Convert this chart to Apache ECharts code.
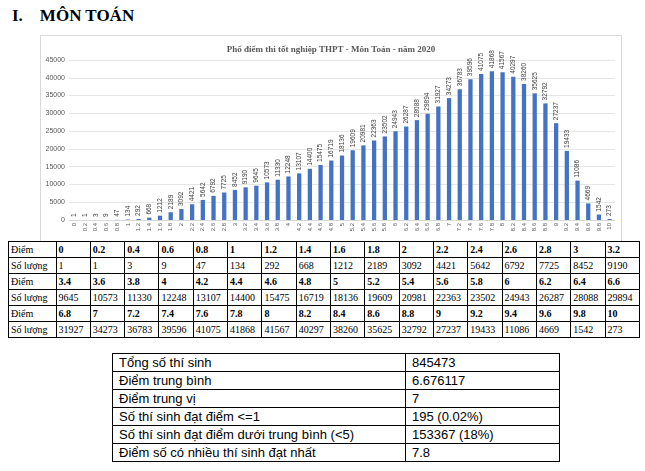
<!DOCTYPE html>
<html><head><meta charset="utf-8">
<script src="https://cdn.jsdelivr.net/npm/echarts@6/dist/echarts.min.js"></script>
<style>
body{margin:0;background:#fff;font-family:"Liberation Serif",serif;}
#h{position:absolute;left:12px;top:6px;font-size:17px;font-weight:bold;}
#chart{position:absolute;left:40px;top:35px;width:580px;height:205px;border:1px solid #d9d9d9;}
table{border-collapse:collapse;position:absolute;}
#t1{left:8px;top:241px;width:632px;font-size:10px;font-family:"Liberation Serif",serif;}
#t1 td{border:1px solid #000;height:15px;padding:0 2px;font-family:"Liberation Serif",serif;}
#t1 tr.p td{font-weight:bold;}
#t2{left:112px;top:353px;width:448px;font-family:"Liberation Sans",sans-serif;font-size:13px;}
#t2 td{border:1px solid #000;height:17px;padding:0 6px;}
</style></head><body>
<div id="h">I.&nbsp;&nbsp;&nbsp;&nbsp;MÔN TOÁN</div>
<div id="chart"></div>
<table id="t1"></table>
<table id="t2"></table>
<script>
var scores = ['0','0.2','0.4','0.6','0.8','1','1.2','1.4','1.6','1.8','2','2.2','2.4','2.6','2.8','3','3.2',
 '3.4','3.6','3.8','4','4.2','4.4','4.6','4.8','5','5.2','5.4','5.6','5.8','6','6.2','6.4','6.6',
 '6.8','7','7.2','7.4','7.6','7.8','8','8.2','8.4','8.6','8.8','9','9.2','9.4','9.6','9.8','10'];
var counts = [1,1,3,9,47,134,292,668,1212,2189,3092,4421,5642,6792,7725,8452,9190,
 9645,10573,11330,12248,13107,14400,15475,16719,18136,19609,20981,22363,23502,24943,26287,28088,29894,
 31927,34273,36783,39596,41075,41868,41567,40297,38260,35625,32792,27237,19433,11086,4669,1542,273];
var statLabels = ['Tổng số thí sinh','Điểm trung bình','Điểm trung vị','Số thí sinh đạt điểm <=1',
 'Số thí sinh đạt điểm dưới trung bình (<5)','Điểm số có nhiều thí sinh đạt nhất'];
var statValues = ['845473','6.676117','7','195 (0.02%)','153367 (18%)','7.8'];

var t1 = '';
for (var r = 0; r < 3; r++) {
  var a = '<tr class="p"><td style="font-weight:normal">Điểm</td>', b = '<tr><td>Số lượng</td>';
  for (var i = r * 17; i < r * 17 + 17; i++) {
    a += '<td>' + scores[i] + '</td>';
    b += '<td>' + counts[i] + '</td>';
  }
  t1 += a + '</tr>' + b + '</tr>';
}
document.getElementById('t1').innerHTML = t1;
var t2 = '';
for (var i = 0; i < statLabels.length; i++) {
  t2 += '<tr><td style="width:280px">' + statLabels[i] + '</td><td>' + statValues[i] + '</td></tr>';
}
document.getElementById('t2').innerHTML = t2;

var myChart = echarts.init(document.getElementById('chart'));
var Option = {
  title: {
    text: 'Phổ điểm thi tốt nghiệp THPT - Môn Toán - năm 2020',
    left: 'center', top: 4,
    textStyle: {fontSize: 9, fontWeight: 'bold', color: '#595959', fontFamily: 'Liberation Serif'}
  },
  grid: {left: 28, right: 6, top: 24, bottom: 21},
  xAxis: {
    type: 'category', data: scores,
    axisLine: {lineStyle: {color: '#d9d9d9'}},
    axisTick: {show: false},
    axisLabel: {rotate: 90, interval: 0, fontSize: 6, color: '#595959', margin: 3}
  },
  yAxis: {
    type: 'value', min: 0, max: 45000, interval: 5000,
    axisLine: {show: false}, axisTick: {show: false},
    splitLine: {lineStyle: {color: '#e6e6e6'}},
    axisLabel: {fontSize: 7, color: '#595959', margin: 4, formatter: function (v) { return String(v); }}
  },
  series: [{
    type: 'bar', data: counts, barWidth: '40%',
    itemStyle: {color: '#4472c4'},
    label: {show: true, position: 'top', rotate: 90, align: 'left', verticalAlign: 'middle',
      distance: 3, fontSize: 6.5, color: '#404040'}
  }]
};
myChart.setOption(Option);
</script>
</body></html>
